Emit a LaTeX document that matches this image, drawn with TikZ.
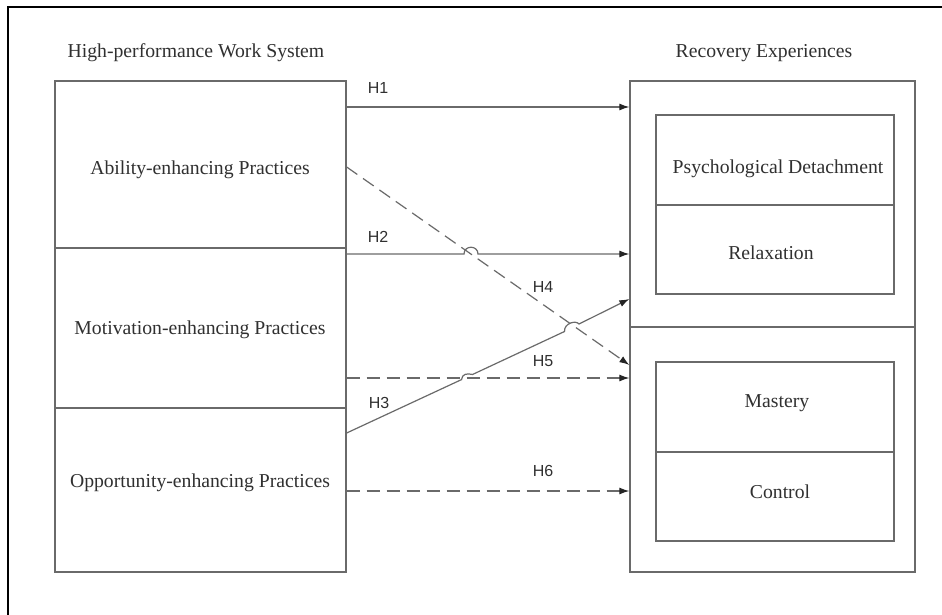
\documentclass[tikz,border=0pt]{standalone}
\usepackage{fontspec}
\setmainfont{Liberation Serif}
\newfontfamily\hfont{Liberation Sans}
\usetikzlibrary{arrows.meta}
\definecolor{linec}{HTML}{6A6A6A}
\definecolor{textc}{HTML}{303030}
\definecolor{tipc}{HTML}{252525}
\begin{document}
\begin{tikzpicture}[x=1pt,y=-1pt,
  boxs/.style={draw=linec,line width=1.3pt,inner sep=0pt},
  lbl/.style={text=textc,font=\fontsize{19.7}{22}\selectfont},
  hlbl/.style={text=textc,font=\hfont\fontsize{16}{18}\selectfont},
  conn/.style={draw=linec,line width=1.2pt,-{Latex[length=10pt,width=7pt,color=tipc]}},
  dconn/.style={conn,dash pattern=on 13pt off 7pt}]
\useasboundingbox (0,0) rectangle (942,615);
\fill[white] (0,0) rectangle (942,615);
\draw[black,line width=2pt] (8,620) -- (8,7) -- (950,7);
% titles
\node[lbl] (t1) at (196,53) {High-performance Work System};
\node[lbl] (t2) at (764,53) {Recovery Experiences};
% left boxes
\node[boxs,minimum width=291pt,minimum height=167pt] (A) at (200.5,164.5) {};
\node[boxs,minimum width=291pt,minimum height=160pt] (M) at (200.5,328) {};
\node[boxs,minimum width=291pt,minimum height=164pt] (O) at (200.5,490) {};
\node[lbl] at (200,169.5) {Ability-enhancing Practices};
\node[lbl] at (200,329.5) {Motivation-enhancing Practices};
\node[lbl] at (200,482.5) {Opportunity-enhancing Practices};
% right boxes
\node[boxs,minimum width=285pt,minimum height=246pt] (R1) at (772.5,204) {};
\node[boxs,minimum width=285pt,minimum height=245pt] (R2) at (772.5,449.5) {};
\node[boxs,minimum width=238pt,minimum height=90pt] (PD) at (775,160) {};
\node[boxs,minimum width=238pt,minimum height=89pt] (RX) at (775,249.5) {};
\node[boxs,minimum width=238pt,minimum height=90pt] (MA) at (775,407) {};
\node[boxs,minimum width=238pt,minimum height=89pt] (CO) at (775,496.5) {};
\node[lbl] at (778,168.5) {Psychological Detachment};
\node[lbl] at (771,253) {Relaxation};
\node[lbl] at (777,403.5) {Mastery};
\node[lbl] at (780,492) {Control};
% connector endpoints
\coordinate (s1) at (A.east |- 0,107);
\coordinate (e1) at (R1.west |- 0,107);
\coordinate (s2) at (M.east |- 0,254);
\coordinate (e2) at (R1.west |- 0,254);
\coordinate (s4) at (A.east |- 0,167);
\coordinate (e4) at (R1.west |- 0,365);
\coordinate (s3) at (O.east |- 0,433);
\coordinate (e3) at (R1.west |- 0,299);
\coordinate (s5) at (M.east |- 0,378);
\coordinate (e5) at (R2.west |- 0,378);
\coordinate (s6) at (O.east |- 0,491);
\coordinate (e6) at (R2.west |- 0,491);
% H1
\draw[conn] (s1) -- (e1);
% H2 with hop over H4
\draw[conn] (s2) -- (464,254) .. controls (464,245) and (478,245) .. (478,254) -- (e2);
% H4 dashed
\draw[dconn] (s4) -- (e4);
% H3 with hops
\draw[conn] (s3) -- (461.5,379.6) .. controls (462,374) and (467,373) .. (472.5,374.5) -- (564.5,331.5) .. controls (564,323) and (576,320) .. (579,324) -- (e3);
% H5
\draw[dconn] (s5) -- (e5);
% H6
\draw[dconn] (s6) -- (e6);
% labels
\node[hlbl] at (378,88) {H1};
\node[hlbl] at (378,237) {H2};
\node[hlbl] at (379,403) {H3};
\node[hlbl] at (543,287) {H4};
\node[hlbl] at (543,361) {H5};
\node[hlbl] at (543,471) {H6};
\end{tikzpicture}
\end{document}
